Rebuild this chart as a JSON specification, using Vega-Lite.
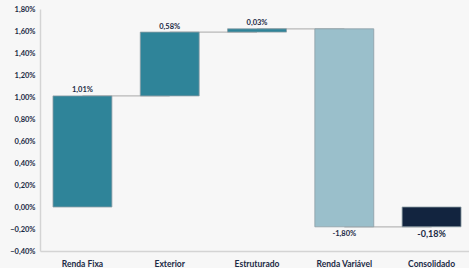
{
  "$schema": "https://vega.github.io/schema/vega-lite/v6.json",
  "width": 429,
  "height": 242,
  "autosize": {"type": "none"},
  "padding": {"left": 40, "top": 9, "right": 0, "bottom": 17},
  "background": "#f7f7f7",
  "config": {
    "view": {"stroke": null},
    "font": "Lato",
    "axisY": {"labelOverlap": false, "labelFlush": false}
  },
  "datasets": {
    "bars": [
      {"cat": "Renda Fixa", "start": 0, "end": 1.01, "label": "1,01%", "grp": "pos", "pos": "top", "ly": 1.01},
      {"cat": "Exterior", "start": 1.01, "end": 1.59, "label": "0,58%", "grp": "pos", "pos": "top", "ly": 1.59},
      {"cat": "Estruturado", "start": 1.59, "end": 1.62, "label": "0,03%", "grp": "pos", "pos": "top", "ly": 1.62},
      {"cat": "Renda Variável", "start": 1.62, "end": -0.18, "label": "-1,80%", "grp": "neg", "pos": "bottom", "ly": -0.18},
      {"cat": "Consolidado", "start": 0, "end": -0.18, "label": "-0,18%", "grp": "tot", "pos": "bottom", "ly": -0.18}
    ],
    "links": [
      {"from": "Renda Fixa", "to": "Exterior", "v": 1.01},
      {"from": "Exterior", "to": "Estruturado", "v": 1.59},
      {"from": "Estruturado", "to": "Renda Variável", "v": 1.62},
      {"from": "Renda Variável", "to": "Consolidado", "v": -0.18}
    ]
  },
  "encoding": {
    "x": {
      "field": "cat",
      "type": "nominal",
      "sort": ["Renda Fixa", "Exterior", "Estruturado", "Renda Variável", "Consolidado"],
      "scale": {"domain": ["Renda Fixa", "Exterior", "Estruturado", "Renda Variável", "Consolidado"], "paddingInner": 0.325, "paddingOuter": 0.12, "align": 0.62},
      "axis": {
        "title": null,
        "labelAngle": 0,
        "labelFont": "Lato",
        "labelFontWeight": "bold",
        "labelFontSize": 8.5,
        "labelColor": "#1b2a45",
        "labelPadding": 8,
        "ticks": false,
        "domainColor": "#d4d4d4",
        "domainWidth": 1.5
      }
    }
  },
  "layer": [
    {
      "data": {"name": "links"},
      "mark": {"type": "rule", "color": "#b8b8b8", "strokeWidth": 1.2},
      "encoding": {
        "x": {"field": "from", "type": "nominal"},
        "x2": {"field": "to"},
        "y": {
          "field": "v",
          "type": "quantitative",
          "scale": {"domain": [-0.4, 1.8], "nice": false, "zero": false},
          "axis": {
            "title": null,
            "values": [-0.4, -0.2, 0, 0.2, 0.4, 0.6, 0.8, 1.0, 1.2, 1.4, 1.6, 1.8],
            "tickCount": 20,
            "labelExpr": "replace(format(datum.value, '.2f'), '.', ',') + '%'",
            "labelOverlap": false,
            "labelFlush": false,
            "labelFont": "Lato",
            "labelFontWeight": "bold",
            "labelFontSize": 7.5,
            "labelColor": "#1b2a45",
            "labelPadding": 5,
            "ticks": false,
            "grid": false,
            "domainColor": "#d4d4d4",
            "domainWidth": 1.5
          }
        }
      }
    },
    {
      "data": {"name": "bars"},
      "mark": {"type": "bar", "stroke": "#8e9ea6", "strokeWidth": 0.8},
      "encoding": {
        "y": {"field": "start", "type": "quantitative"},
        "y2": {"field": "end"},
        "color": {
          "field": "grp",
          "type": "nominal",
          "scale": {"domain": ["pos", "neg", "tot"], "range": ["#2f8499", "#9abfcb", "#12243f"]},
          "legend": null
        }
      }
    },
    {
      "data": {"name": "bars"},
      "transform": [{"filter": "datum.pos == 'top'"}],
      "mark": {"type": "text", "dy": -1.5, "baseline": "bottom", "fontWeight": "bold", "fontSize": 7.5, "color": "#1b2a45", "font": "Lato"},
      "encoding": {
        "y": {"field": "ly", "type": "quantitative"},
        "text": {"field": "label"}
      }
    },
    {
      "data": {"name": "bars"},
      "transform": [{"filter": "datum.cat == 'Renda Variável'"}],
      "mark": {"type": "text", "dy": 3, "baseline": "top", "fontWeight": "bold", "fontSize": 7.5, "color": "#1b2a45", "font": "Lato"},
      "encoding": {
        "y": {"field": "ly", "type": "quantitative"},
        "text": {"field": "label"}
      }
    },
    {
      "data": {"name": "bars"},
      "transform": [{"filter": "datum.cat == 'Consolidado'"}],
      "mark": {"type": "text", "dy": 3, "baseline": "top", "fontWeight": "bold", "fontSize": 9, "color": "#1b2a45", "font": "Lato"},
      "encoding": {
        "y": {"field": "ly", "type": "quantitative"},
        "text": {"field": "label"}
      }
    }
  ]
}
